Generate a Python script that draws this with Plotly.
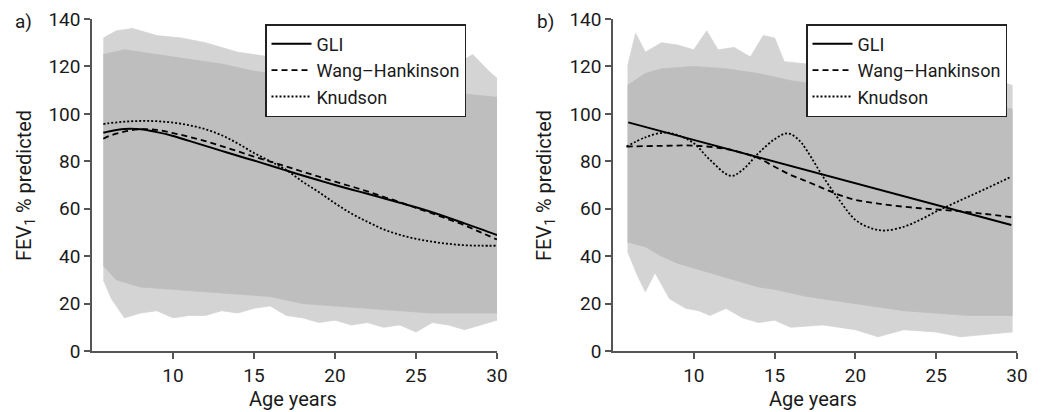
import plotly.graph_objects as go

# ── Panel a data (age years, FEV1 % predicted) ──
a_core_age = [5.7, 7, 9, 11, 13, 15, 18, 21, 24, 27, 30]
a_core_hi = [125, 127, 125, 123, 121, 118, 115, 113, 111, 109, 107]
a_core_lo_age = [5.7, 6.5, 8, 10, 12, 14, 16, 18, 20, 22, 24, 26, 28, 30]
a_core_lo = [36, 30, 27, 26, 25, 24, 23, 20, 19, 18, 17, 16, 16, 16]
a_fr_hi_age = [5.7, 6.5, 7.5, 9, 10.5, 12, 14, 16, 20, 24, 27, 28.5, 29.5, 30]
a_fr_hi = [132, 135, 136, 133, 132, 130, 126, 124, 122, 120, 119, 125, 118, 115]
a_fr_lo_age = [5.7, 6.2, 7, 8, 9, 10, 11, 12, 13, 14, 15, 16, 17, 18, 19, 20,
               21, 22, 23, 24, 25, 26, 27, 28, 29, 30]
a_fr_lo = [30, 22, 14, 16, 17, 14, 15, 15, 17, 16, 18, 19, 15, 14, 12, 13,
           11, 12, 10, 11, 8, 12, 11, 9, 11, 13]

a_age = [5.7, 6, 7, 8, 9, 10, 11, 12, 13, 14, 15, 16, 17, 18, 19, 20, 21, 22,
         23, 24, 25, 26, 27, 28, 29, 30]
a_gli = [92, 92.5, 93.6, 93.5, 92.3, 90.7, 88.6, 86.5, 84.4, 82.3, 80.3, 78.2,
         76.1, 74, 72, 70, 68.1, 66.3, 64.4, 62.5, 60.6, 58.5, 56.2, 53.8, 51.4, 48.9]
a_wh = [89.5, 90.5, 92.5, 93.5, 93.2, 91.9, 90.3, 88.5, 86.4, 84.2, 82, 79.9,
        77.8, 75.6, 73.5, 71.4, 69.4, 67.3, 65, 62.8, 60.3, 58, 55.5, 53, 50, 47]
a_knud = [95.7, 96, 96.7, 97, 96.9, 96.3, 95.2, 93.5, 91, 87.5, 83.5, 80, 76.3,
          71.4, 67, 62.3, 58, 54.5, 51.3, 49, 47.3, 46.1, 45.2, 44.6, 44.4, 44.4]

# ── Panel b data ──
b_core_hi_age = [5.9, 7, 8, 10, 12, 14, 16, 19, 22, 25, 28, 29.7]
b_core_hi = [112, 117, 119, 120, 119, 117, 114, 111, 109, 107, 105, 102]
b_core_lo_age = [5.9, 7, 8, 9, 10, 11, 12, 13, 14, 15, 17, 19, 21, 23, 25, 27, 29.7]
b_core_lo = [46, 44, 40, 37, 35, 33, 31, 29, 27, 26, 23, 21, 19, 17, 16, 15, 15]
b_fr_hi_age = [5.9, 6.4, 7, 8, 9, 10, 10.8, 11.5, 12.5, 13.5, 14.3, 15, 15.6,
               17, 20, 23, 26, 28, 29.7]
b_fr_hi = [120, 134, 126, 130, 129, 127, 135, 127, 128, 124, 133, 132, 122,
           121, 119, 118, 117, 116, 112]
b_fr_lo_age = [5.9, 6.5, 7, 7.6, 8.5, 9.5, 10.3, 11, 12, 13, 14, 15, 16, 18,
               20, 21.4, 23, 25, 26.5, 28, 29.7]
b_fr_lo = [42, 32, 25, 33, 22, 18, 17, 15, 18, 14, 12, 13, 10, 11, 9, 6, 9,
           8, 6, 7, 8]

b_gli_age = [5.94, 29.65]
b_gli = [96.4, 53.1]
b_wh_age = [5.84, 8, 10, 12, 13, 14, 15, 16, 17, 18, 19, 20, 21, 22, 24, 26,
            28, 29.65]
b_wh = [86.2, 86.5, 86.6, 85.2, 83.5, 81.3, 77.7, 74.2, 71.5, 68.6, 65.8,
        63.7, 62.6, 61.6, 60.2, 59.2, 57.8, 56.4]
b_knud_age = [5.84, 7, 8.2, 9, 10, 11, 12.3, 13, 14, 15, 15.8, 16.5, 17, 18,
              19, 20, 21, 21.8, 23, 24, 25, 26, 27, 28, 29, 29.65]
b_knud = [86.2, 90.1, 92.1, 91, 87.6, 80.6, 73.8, 76.3, 83.4, 89.3, 91.8, 89,
          84.5, 73.5, 63.7, 55.3, 51.7, 50.8, 52.4, 55.3, 58.8, 62, 65.1, 68.2,
          71.4, 73.5]

CORE = '#bebebe'
FRINGE = '#d4d4d4'
FONT = 'Roboto'
W, H, OFF = 1043, 412, 8   # page body adds an 8px margin


def px(x):
    return (x - OFF) / W


def py(y):
    return 1 - (y - OFF) / H


def band(hi_age, hi, lo_age, lo, color, xa, ya):
    return go.Scatter(
        x=list(hi_age) + list(lo_age)[::-1],
        y=list(hi) + list(lo)[::-1],
        fill='toself', fillcolor=color, mode='lines',
        line=dict(width=0.8, color=color),
        showlegend=False, hoverinfo='skip', xaxis=xa, yaxis=ya)


def label(text, x, y, angle=0, size=20):
    return dict(text=text, x=px(x), y=py(y), xref='paper', yref='paper',
                xanchor='center', yanchor='middle', showarrow=False,
                textangle=angle, font=dict(size=size, color='#1a1a1a'))


fig = go.Figure()

# Panel a
fig.add_trace(band(a_fr_hi_age, a_fr_hi, a_fr_lo_age, a_fr_lo, FRINGE, 'x', 'y'))
fig.add_trace(band(a_core_age, a_core_hi, a_core_lo_age, a_core_lo, CORE, 'x', 'y'))
fig.add_trace(go.Scatter(x=a_age, y=a_gli, mode='lines', name='GLI',
                         line=dict(color='black', width=2, shape='spline'),
                         xaxis='x', yaxis='y', legend='legend'))
fig.add_trace(go.Scatter(x=a_age, y=a_wh, mode='lines', name='Wang–Hankinson',
                         line=dict(color='black', width=1.8, dash='6px,4px', shape='spline'),
                         xaxis='x', yaxis='y', legend='legend'))
fig.add_trace(go.Scatter(x=a_age, y=a_knud, mode='lines', name='Knudson',
                         line=dict(color='black', width=1.8, dash='2px,2px', shape='spline'),
                         xaxis='x', yaxis='y', legend='legend'))

# Panel b
fig.add_trace(band(b_fr_hi_age, b_fr_hi, b_fr_lo_age, b_fr_lo, FRINGE, 'x2', 'y2'))
fig.add_trace(band(b_core_hi_age, b_core_hi, b_core_lo_age, b_core_lo, CORE, 'x2', 'y2'))
fig.add_trace(go.Scatter(x=b_gli_age, y=b_gli, mode='lines', name='GLI',
                         line=dict(color='black', width=2),
                         xaxis='x2', yaxis='y2', legend='legend2'))
fig.add_trace(go.Scatter(x=b_wh_age, y=b_wh, mode='lines', name='Wang–Hankinson',
                         line=dict(color='black', width=1.8, dash='6px,4px', shape='spline'),
                         xaxis='x2', yaxis='y2', legend='legend2'))
fig.add_trace(go.Scatter(x=b_knud_age, y=b_knud, mode='lines', name='Knudson',
                         line=dict(color='black', width=1.8, dash='2px,2px', shape='spline'),
                         xaxis='x2', yaxis='y2', legend='legend2'))

axis_common = dict(showline=True, linecolor='#555', linewidth=1.5, ticks='outside',
                   ticklen=6, tickcolor='#555', tickwidth=1.5, showgrid=False,
                   zeroline=False, tickfont=dict(size=19, color='#1a1a1a'),
                   ticklabeloverflow='allow', automargin=False)
xcommon = dict(axis_common, range=[5, 30], tickvals=[10, 15, 20, 25, 30])
ycommon = dict(axis_common, range=[0, 140], tickvals=list(range(0, 141, 20)))

legend_common = dict(bgcolor='white', bordercolor='#222', borderwidth=1.5,
                     font=dict(size=18, color='#1a1a1a'), xanchor='left',
                     yanchor='top', y=py(24), tracegroupgap=0, itemwidth=40)

ydom = [py(351), py(19)]
fig.update_layout(
    width=W, height=H,
    margin=dict(l=0, r=0, t=0, b=0),
    paper_bgcolor='white', plot_bgcolor='white',
    font=dict(family=FONT, color='#1a1a1a'),
    xaxis=dict(xcommon, domain=[px(92), px(497)], anchor='y'),
    yaxis=dict(ycommon, domain=ydom, anchor='x'),
    xaxis2=dict(xcommon, domain=[px(613), px(1017)], anchor='y2'),
    yaxis2=dict(ycommon, domain=ydom, anchor='x2'),
    legend=dict(legend_common, x=px(265)),
    legend2=dict(legend_common, x=px(806)),
    annotations=[
        label('a)', 23, 22, size=19),
        label('b)', 545, 22, size=19),
        label('FEV<sub>1</sub> % predicted', 25, 186, -90),
        label('FEV<sub>1</sub> % predicted', 545, 186, -90),
        label('Age years', 293, 399),
        label('Age years', 813, 399),
    ],
)

fig.write_html("out.html")
